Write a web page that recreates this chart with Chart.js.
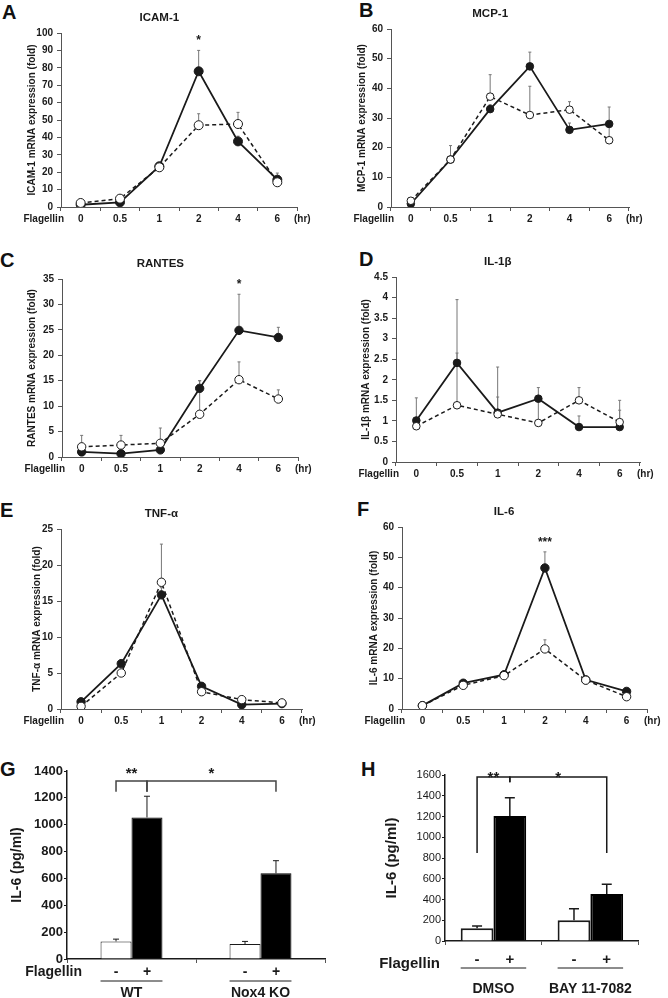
<!DOCTYPE html>
<html>
<head>
<meta charset="utf-8">
<title>Flagellin time course</title>
<script src="https://cdn.jsdelivr.net/npm/chart.js@4.4.1/dist/chart.umd.min.js"></script>
<style>
  body { margin: 0; background: #fff; }
  #page { position: relative; width: 668px; height: 998px; overflow: hidden; font-family: "Liberation Sans", Arial, sans-serif; }
  #page canvas { position: absolute; }
  .letter { position: absolute; font-size: 20px; line-height: 20px; font-weight: bold; color: #111; }
</style>
</head>
<body>
<div id="page">
  <div class="letter" style="left:2px;top:2px">A</div>
  <div class="letter" style="left:359px;top:0px">B</div>
  <div class="letter" style="left:0px;top:250px">C</div>
  <div class="letter" style="left:359px;top:249px">D</div>
  <div class="letter" style="left:0px;top:500px">E</div>
  <div class="letter" style="left:357px;top:499px">F</div>
  <div class="letter" style="left:0px;top:759px">G</div>
  <div class="letter" style="left:361px;top:759px">H</div>
</div>
<script>

/* DATA */

const hours = ["0", "0.5", "1", "2", "4", "6"];

const icamOpen = [2.3, 4.8, 22.8, 47, 47.7, 14.2];
const icamOpenErr = [0.5, 0.8, 1.2, 6.6, 6.7, 1];
const icamFilled = [1.3, 2.7, 23.4, 78, 37.7, 15.7];
const icamFilledErr = [0.5, 0.8, 1.5, 12, 3, 3.8];
const icamStars = [null, null, null, "*", null, null];

const mcpOpen = [2.1, 16, 37.2, 31, 32.8, 22.5];
const mcpOpenErr = [0.5, 4.7, 7.4, 9.7, 2.7, 5.5];
const mcpFilled = [1.1, 16, 33, 47.4, 26, 28];
const mcpFilledErr = [0.5, 1, 1.5, 4.8, 2.3, 5.7];

const rantesOpen = [2.0, 2.35, 2.7, 8.4, 15.2, 11.4];
const rantesOpenErr = [2.25, 1.9, 3.0, 6.6, 3.5, 1.8];
const rantesFilled = [1.0, 0.65, 1.4, 13.5, 24.9, 23.5];
const rantesFilledErr = [0.3, 0.3, 0.5, 1.5, 7.1, 2.0];
const rantesStars = [null, null, null, null, "*", null];

const il1bOpen = [0.87, 1.38, 1.16, 0.95, 1.5, 0.97];
const il1bOpenErr = [0.05, 1.27, 0.42, 0.67, 0.31, 0.53];
const il1bFilled = [1.01, 2.41, 1.2, 1.54, 0.85, 0.85];
const il1bFilledErr = [0.55, 1.54, 1.11, 0.27, 0.27, 0.41];

const tnfOpen = [0.37, 5.0, 17.6, 2.4, 1.3, 0.85];
const tnfOpenErr = [0.1, 0.5, 5.3, 0.3, 0.2, 0.1];
const tnfFilled = [1.0, 6.3, 15.85, 3.15, 0.6, 0.75];
const tnfFilledErr = [0.2, 0.5, 1, 0.3, 0.2, 0.1];

const il6Open = [1.1, 7.8, 11, 19.8, 9.5, 4.05];
const il6OpenErr = [0.2, 0.5, 0.5, 3, 0.5, 0.5];
const il6Filled = [1.1, 8.5, 11.3, 46.5, 9.6, 5.8];
const il6FilledErr = [0.2, 0.5, 0.5, 5.3, 0.5, 0.5];
const il6Stars = [null, null, null, "***", null, null];

const gGroups = ["WT", "Nox4 KO"];
const gMinus = [131, 111];
const gMinusErr = [17, 20];
const gPlus = [1054, 638];
const gPlusErr = [158, 94];
const gBrackets = [
  { from: [0, 0], to: [1, 0], top: 1325, legFrom: 1245, legTo: 1245, label: "**" },
  { from: [1, 0], to: [1, 1], top: 1325, legFrom: 1245, legTo: 1245, label: "*" }
];

const hGroups = ["DMSO", "BAY 11-7082"];
const hMinus = [122, 199];
const hMinusErr = [23, 113];
const hPlus = [1205, 453];
const hPlusErr = [176, 93];
const hBrackets = [
  { from: [0, 0], to: [1, 0], top: 1581, legFrom: 848, legTo: 1530, label: "**" },
  { from: [1, 0], to: [1, 1], top: 1581, legFrom: 1530, legTo: 848, label: "*" }
];


const FONT = "'Liberation Sans', Arial, sans-serif";
const INK = "#1a1a1a";
const AXIS = "#555";
const page = document.getElementById("page");


function drawText(ctx, str, x, y, size, align, weight, baseline) {
  ctx.save();
  ctx.font = (weight || "bold") + " " + size + "px " + FONT;
  ctx.fillStyle = INK;
  ctx.textAlign = align || "center";
  ctx.textBaseline = baseline || "middle";
  ctx.fillText(str, x, y);
  ctx.restore();
}


/* ERROR BARS */

function drawErrors(chart, opts) {
  const ctx = chart.ctx;
  const y = chart.scales.y;
  ctx.save();
  ctx.strokeStyle = opts.color;
  ctx.lineWidth = opts.width;
  chart.data.datasets.forEach((ds, di) => {
    if (!ds.errors) return;
    chart.getDatasetMeta(di).data.forEach((el, i) => {
      const err = ds.errors[i];
      if (!err) return;
      const top = y.getPixelForValue(ds.data[i] + err);
      ctx.beginPath();
      ctx.moveTo(el.x, el.y);
      ctx.lineTo(el.x, top);
      ctx.moveTo(el.x - opts.cap, top);
      ctx.lineTo(el.x + opts.cap, top);
      ctx.stroke();
    });
  });
  ctx.restore();
}

const errorBars = {
  id: "errorBars",
  beforeDatasetsDraw(chart, args, opts) {
    if (chart.config.type === "line") drawErrors(chart, opts);
  },
  afterDatasetsDraw(chart, args, opts) {
    if (chart.config.type === "bar") drawErrors(chart, opts);
  }
};


/* TITLES, FLAGELLIN / (hr) AND STARS ON LINE PANELS */

const panelText = {
  id: "panelText",
  afterDraw(chart, args, opts) {
    if (!opts.title) return;
    const ctx = chart.ctx;
    const a = chart.chartArea;
    const x = chart.scales.x;
    const y = chart.scales.y;

    drawText(ctx, opts.title, x.getPixelForValue(2), a.top - 15, 11.5);
    drawText(ctx, "Flagellin", a.left + 3, a.bottom + 12, 10, "right");
    drawText(ctx, "(hr)", a.right - 3, a.bottom + 12, 10, "left");

    if (opts.stars) {
      const ds = chart.data.datasets[1];
      const meta = chart.getDatasetMeta(1);
      opts.stars.forEach((s, i) => {
        if (!s) return;
        const top = y.getPixelForValue(ds.data[i] + ds.errors[i]);
        drawText(ctx, s, meta.data[i].x, top - 6, 12, "center", "bold", "alphabetic");
      });
    }
  }
};


/* SIGNS, UNDERLINES AND BRACKETS ON BAR PANELS */

const groupMarks = {
  id: "groupMarks",
  afterDraw(chart, args, opts) {
    if (!opts.brackets) return;
    const ctx = chart.ctx;
    const a = chart.chartArea;
    const y = chart.scales.y;
    const minus = chart.getDatasetMeta(0).data;
    const plus = chart.getDatasetMeta(1).data;

    drawText(ctx, "Flagellin", a.left + opts.flag.dx, a.bottom + opts.flag.dy, opts.flag.size, "right");

    ctx.save();
    ctx.strokeStyle = INK;
    ctx.lineWidth = 1;
    minus.forEach((m, i) => {
      const p = plus[i];
      drawText(ctx, "-", m.x, a.bottom + opts.signDy, opts.signSize);
      drawText(ctx, "+", p.x, a.bottom + opts.signDy, opts.signSize);
      ctx.beginPath();
      ctx.moveTo(m.x - m.width / 2, a.bottom + opts.lineDy);
      ctx.lineTo(p.x + p.width / 2, a.bottom + opts.lineDy);
      ctx.stroke();
    });

    ctx.strokeStyle = opts.bracketColor;
    ctx.lineWidth = opts.bracketWidth;
    opts.brackets.forEach(b => {
      const x0 = chart.getDatasetMeta(b.from[0]).data[b.from[1]].x;
      const x1 = chart.getDatasetMeta(b.to[0]).data[b.to[1]].x;
      const top = y.getPixelForValue(b.top);
      ctx.beginPath();
      ctx.moveTo(x0, y.getPixelForValue(b.legFrom));
      ctx.lineTo(x0, top);
      ctx.lineTo(x1, top);
      ctx.lineTo(x1, y.getPixelForValue(b.legTo));
      ctx.stroke();
      drawText(ctx, b.label, (x0 + x1) / 2, top + opts.starDy, opts.starSize, "center", "bold", "alphabetic");
    });
    ctx.restore();
  }
};

Chart.register(errorBars, panelText, groupMarks);


function addCanvas(box) {
  const cv = document.createElement("canvas");
  cv.width = box.w;
  cv.height = box.h;
  cv.style.left = box.l + "px";
  cv.style.top = box.t + "px";
  page.appendChild(cv);
  return cv;
}

const plainNumber = v => String(v);


/* LINE PANELS */

function makeLine(p) {
  const cv = addCanvas(p.box);
  const tickFont = { family: FONT, size: 10, weight: "bold" };

  new Chart(cv, {
    type: "line",
    data: {
      labels: hours,
      datasets: [
        {
          data: p.open, errors: p.openErr,
          borderColor: INK, borderWidth: 1.5, borderDash: [4, 3],
          pointBackgroundColor: "#fff", pointBorderColor: INK, pointBorderWidth: 1, pointRadius: p.r
        },
        {
          data: p.filled, errors: p.filledErr,
          borderColor: INK, borderWidth: 1.8,
          pointBackgroundColor: INK, pointBorderColor: INK, pointBorderWidth: 1, pointRadius: p.r
        }
      ]
    },
    options: {
      responsive: false,
      animation: false,
      layout: { padding: { left: 0, top: p.area.t - p.box.t, right: p.box.l + p.box.w - p.area.r, bottom: 0 } },
      plugins: {
        legend: { display: false },
        tooltip: { enabled: false },
        errorBars: { color: "#777", width: 1, cap: 1.5 },
        panelText: { title: p.title, stars: p.stars }
      },
      scales: {
        x: {
          offset: true,
          grid: { offset: true, drawOnChartArea: false, tickLength: 4, color: AXIS },
          border: { color: AXIS, width: 1 },
          ticks: { padding: 2, color: INK, font: tickFont, maxRotation: 0 },
          afterFit: s => { s.height = p.box.t + p.box.h - p.area.b; }
        },
        y: {
          min: 0,
          max: p.max,
          grid: { drawOnChartArea: false, tickLength: 4, color: AXIS },
          border: { color: AXIS, width: 1 },
          ticks: { stepSize: p.step, padding: 4, color: INK, font: tickFont, callback: plainNumber },
          title: {
            display: true, text: p.yTitle, color: INK,
            font: { family: FONT, size: 10, weight: "bold" },
            padding: { top: p.tpad, bottom: 0 }
          },
          afterFit: s => { s.width = p.area.l - p.box.l; }
        }
      }
    }
  });
}

makeLine({
  box: { l: 0, t: 0, w: 334, h: 240 }, area: { l: 61, r: 297, t: 33, b: 207 },
  title: "ICAM-1", yTitle: "ICAM-1 mRNA expression (fold)", tpad: 26,
  max: 100, step: 10, r: 4.5,
  open: icamOpen, openErr: icamOpenErr, filled: icamFilled, filledErr: icamFilledErr, stars: icamStars
});

makeLine({
  box: { l: 334, t: 0, w: 334, h: 240 }, area: { l: 391, r: 629, t: 29, b: 207 },
  title: "MCP-1", yTitle: "MCP-1 mRNA expression (fold)", tpad: 22,
  max: 60, step: 10, r: 3.8,
  open: mcpOpen, openErr: mcpOpenErr, filled: mcpFilled, filledErr: mcpFilledErr
});

makeLine({
  box: { l: 0, t: 240, w: 334, h: 240 }, area: { l: 62, r: 298, t: 279, b: 457 },
  title: "RANTES", yTitle: "RANTES mRNA expression (fold)", tpad: 26,
  max: 35, step: 5, r: 4.2,
  open: rantesOpen, openErr: rantesOpenErr, filled: rantesFilled, filledErr: rantesFilledErr, stars: rantesStars
});

makeLine({
  box: { l: 334, t: 240, w: 334, h: 245 }, area: { l: 396, r: 640, t: 277, b: 462 },
  title: "IL-1β", yTitle: "IL-1β mRNA expression (fold)", tpad: 26,
  max: 4.5, step: 0.5, r: 3.8,
  open: il1bOpen, openErr: il1bOpenErr, filled: il1bFilled, filledErr: il1bFilledErr
});

makeLine({
  box: { l: 0, t: 480, w: 334, h: 250 }, area: { l: 61, r: 302, t: 529, b: 709 },
  title: "TNF-α", yTitle: "TNF-α mRNA expression (fold)", tpad: 31,
  max: 25, step: 5, r: 4.2,
  open: tnfOpen, openErr: tnfOpenErr, filled: tnfFilled, filledErr: tnfFilledErr
});

makeLine({
  box: { l: 334, t: 480, w: 334, h: 250 }, area: { l: 402, r: 647, t: 527, b: 709 },
  title: "IL-6", yTitle: "IL-6 mRNA expression (fold)", tpad: 34,
  max: 60, step: 10, r: 4.2,
  open: il6Open, openErr: il6OpenErr, filled: il6Filled, filledErr: il6FilledErr, stars: il6Stars
});


/* BAR PANELS */

function makeBar(p) {
  const cv = addCanvas(p.box);

  new Chart(cv, {
    type: "bar",
    data: {
      labels: p.groups,
      datasets: [
        { data: p.minus, errors: p.minusErr, backgroundColor: "#fff", borderColor: INK, borderWidth: p.borderW },
        { data: p.plus, errors: p.plusErr, backgroundColor: "#000", borderColor: "#000", borderWidth: p.borderW }
      ]
    },
    options: {
      responsive: false,
      animation: false,
      categoryPercentage: p.catPct,
      barPercentage: 1,
      layout: { padding: { left: 0, top: p.area.t - p.box.t, right: p.box.l + p.box.w - p.area.r, bottom: 0 } },
      plugins: {
        legend: { display: false },
        tooltip: { enabled: false },
        errorBars: { color: INK, width: p.errW, cap: p.cap },
        groupMarks: {
          brackets: p.brackets, bracketColor: p.bracketColor, bracketWidth: 1.5,
          starSize: p.starSize, starDy: p.starDy,
          signSize: p.signSize, signDy: p.signDy, lineDy: p.lineDy, flag: p.flag
        }
      },
      scales: {
        x: {
          grid: { drawOnChartArea: false, tickLength: 4, color: AXIS },
          border: { color: INK, width: 1.5 },
          ticks: { padding: p.xPad, color: INK, font: { family: FONT, size: 14, weight: "bold" } },
          afterFit: s => { s.height = p.box.t + p.box.h - p.area.b; }
        },
        y: {
          min: 0,
          max: p.max,
          grid: { drawOnChartArea: false, tickLength: 3, color: INK },
          border: { color: INK, width: 1.5 },
          ticks: { stepSize: p.step, padding: 1, color: INK, font: p.tickFont, callback: plainNumber },
          title: {
            display: true, text: "IL-6 (pg/ml)", color: INK,
            font: { family: FONT, size: p.yTitleSize, weight: "bold" },
            padding: { top: p.tpad, bottom: 0 }
          },
          afterFit: s => { s.width = p.area.l - p.box.l; }
        }
      }
    }
  });
}

makeBar({
  box: { l: 0, t: 730, w: 334, h: 268 }, area: { l: 67, r: 325, t: 771, b: 959 },
  groups: gGroups, minus: gMinus, minusErr: gMinusErr, plus: gPlus, plusErr: gPlusErr,
  max: 1400, step: 200, catPct: 0.48,
  tickFont: { family: FONT, size: 13, weight: "bold" },
  yTitleSize: 14, tpad: 9, xPad: 22,
  borderW: 1, errW: 1, cap: 3,
  brackets: gBrackets, bracketColor: "#444", starSize: 15, starDy: -3,
  signSize: 14, signDy: 13, lineDy: 22, flag: { size: 14, dx: 15, dy: 13 }
});

makeBar({
  box: { l: 334, t: 730, w: 334, h: 268 }, area: { l: 445, r: 667, t: 775, b: 941 },
  groups: hGroups, minus: hMinus, minusErr: hMinusErr, plus: hPlus, plusErr: hPlusErr,
  max: 1600, step: 200, catPct: 0.676,
  tickFont: { family: FONT, size: 11, weight: "normal" },
  yTitleSize: 15, tpad: 49, xPad: 36,
  borderW: 2, errW: 1.5, cap: 5,
  brackets: hBrackets, bracketColor: INK, starSize: 15, starDy: 5,
  signSize: 15, signDy: 19, lineDy: 27, flag: { size: 15, dx: -5, dy: 23 }
});

</script>
</body>
</html>
